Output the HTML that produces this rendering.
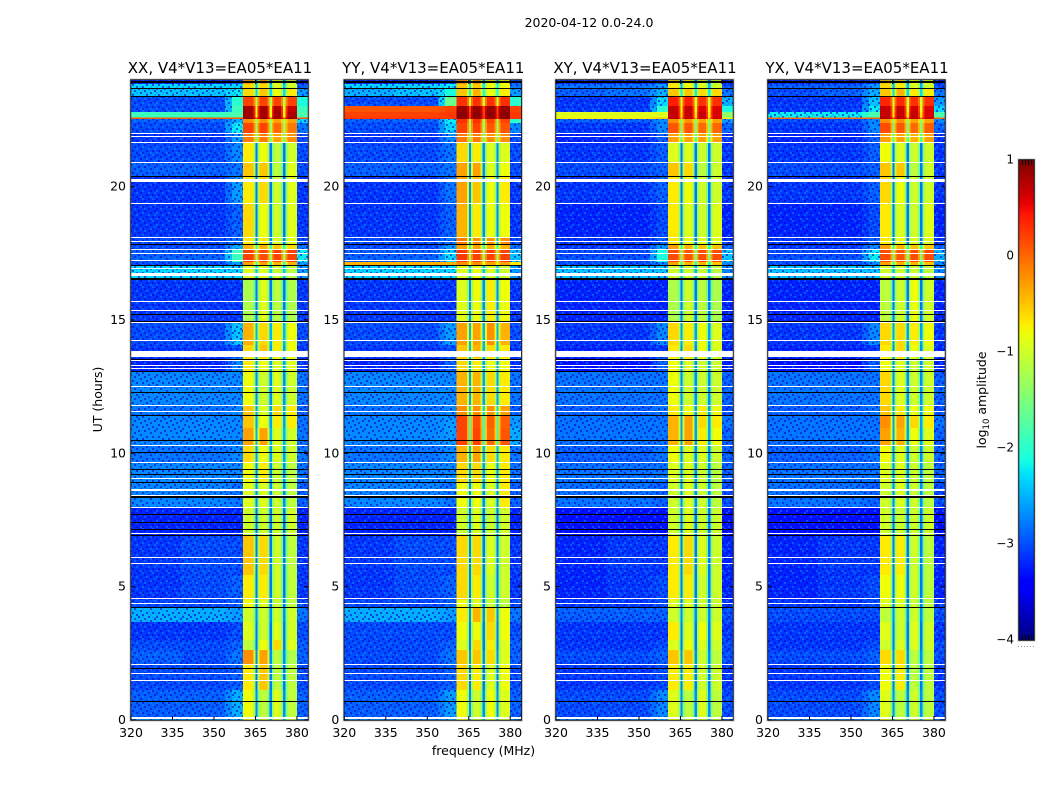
<!DOCTYPE html>
<html>
<head>
<meta charset="utf-8">
<title>2020-04-12 0.0-24.0</title>
<style>
html,body{margin:0;padding:0;background:#fff;width:1050px;height:800px;overflow:hidden}
svg{display:block}
text{font-family:"DejaVu Sans","Liberation Sans",sans-serif;fill:#000}
</style>
</head>
<body>
<svg id="fig" xmlns="http://www.w3.org/2000/svg" width="1050" height="800" viewBox="0 0 1050 800">
<defs>
<pattern id="speckle" width="26" height="22" patternUnits="userSpaceOnUse">
<path fill="#0000d8" fill-opacity="0.6" d="M0 0h2v2h-2z M8 0h2v2h-2z M18 0h2v2h-2z M4 2h2v2h-2z M14 2h2v2h-2z M24 2h2v2h-2z M10 4h2v2h-2z M20 4h2v2h-2z M2 6h2v2h-2z M16 6h2v2h-2z M6 8h2v2h-2z M12 8h2v2h-2z M22 8h2v2h-2z M0 10h2v2h-2z M18 10h2v2h-2z M8 12h2v2h-2z M14 12h2v2h-2z M24 12h2v2h-2z M4 14h2v2h-2z M20 14h2v2h-2z M10 16h2v2h-2z M2 18h2v2h-2z M16 18h2v2h-2z M22 18h2v2h-2z M6 20h2v2h-2z M12 20h2v2h-2z"/>
<path fill="#0a90ff" fill-opacity="0.5" d="M12 0h2v2h-2z M22 0h2v2h-2z M0 4h2v2h-2z M6 4h2v2h-2z M16 4h2v2h-2z M10 8h2v2h-2z M20 8h2v2h-2z M4 10h2v2h-2z M14 10h2v2h-2z M24 6h2v2h-2z M0 14h2v2h-2z M12 14h2v2h-2z M24 16h2v2h-2z M6 16h2v2h-2z M18 16h2v2h-2z M10 20h2v2h-2z M20 20h2v2h-2z M0 20h2v2h-2z"/>
</pattern>
</defs>
<text x="589" y="27" text-anchor="middle" font-size="12.5">2020-04-12 0.0-24.0</text>
<text x="483.5" y="755" text-anchor="middle" font-size="12.5">frequency (MHz)</text>
<text transform="translate(102,399.5) rotate(-90)" text-anchor="middle" font-size="12.5">UT (hours)</text>
<text transform="translate(986,400) rotate(-90)" text-anchor="middle" font-size="12.5">log<tspan font-size="8.5" dy="3">10</tspan><tspan dy="-3"> amplitude</tspan></text>
<g id="panels"></g>
<g id="colorbar"></g>
</svg>
<script>
// Time band edges (hours, top to bottom)
const bandHours = [24,23.85,23.7,23.36,23.02,22.8,22.6,22.53,22.38,22,21.67,20.92,20.36,19.38,18.07,17.81,17.62,17.17,17.02,16.54,14.96,14.06,13.57,13.05,11.81,11.44,10.95,10.31,9.67,8.92,7.99,6.9,5.44,4.5,4.24,3.67,3,2.62,2.1,1.12,0.07,0];
// Frequency column edges (MHz)
const freqEdges = [320,338,354,356.5,360.5,364.3,365,365.8,366.5,369.3,370,370.9,371.6,374.3,375,375.8,376.5,380,384];
// row = [low, mid, ramp, band1, band2, band3, band4, gap, high]
// Each column reads one slot, or a weighted blend [slotA, slotB, weightA] at a transition.
const columnSlots = [0,1,[1,2,.5],2,3,[3,7,.72],7,[4,7,.72],4,[4,7,.72],7,[5,7,.72],5,[5,7,.72],7,[6,7,.72],6,8];

const xxValues = [
[-3.2,-3.2,-3,-.3,-.3,-.8,-1,-2.8,-3.2],
[-2.3,-2.3,-2.3,-.6,-.6,-.9,-1,-2.4,-2.9],
[-2.4,-2.4,-2.2,-.6,-.5,-.8,-.7,-2.3,-2.6],
[-3,-3,-2,.2,.2,.2,.2,-1.2,-2.1],
[-3,-3,-1.9,.85,.85,.8,.7,-.9,-1.9],
[-1.9,-1.9,-1.8,.85,.85,.85,.8,-.8,-1.8],
[.1,.1,.1,.9,.9,.9,.9,.1,.1],
[-2.9,-2.9,-2.5,-.2,-.2,-.3,-.3,-1.3,-2.3],
[-3,-3,-2.2,.2,.2,0,-.1,-1.3,-2.8],
[-3.1,-3.1,-2.6,-.1,-.1,-.3,-.2,-1.5,-3],
[-3,-3,-2.7,-.7,-.8,-1.1,-1,-2.8,-3],
[-2.9,-2.9,-2.8,-.5,-.5,-1.1,-.9,-2.8,-3],
[-3.1,-3.1,-2.6,-.7,-.6,-1,-.9,-2.8,-3.1],
[-3.1,-3.1,-2.9,-.6,-.8,-1,-.9,-2.8,-3.1],
[-3,-3,-2.8,-.7,-.7,-.9,-.9,-2.7,-3],
[-3,-3,-2.5,-.4,-.4,-.5,-.6,-2,-2.8],
[-2.9,-2.9,-1.9,.2,.15,.2,.2,-1.3,-2.2],
[-3,-3,-2.6,-.3,-.3,-.4,-.4,-2,-2.6],
[-2.3,-2.3,-2.3,-.9,-.9,-1,-1.1,-2.4,-2.6],
[-3.1,-3.1,-3.1,-1.2,-.9,-1.1,-1.2,-2.8,-3.1],
[-3,-3,-2.4,-.4,-.6,-.7,-.8,-2.5,-3],
[-3.1,-3.1,-3,-.6,-.5,-.7,-.8,-2.6,-3.1],
[-3.2,-3.2,-2.7,-.7,-.8,-.9,-.9,-2.6,-3.1],
[-2.7,-2.7,-2.7,-.8,-1,-.9,-1,-2.7,-2.8],
[-2.8,-2.8,-2.7,-.5,-.9,-.6,-.7,-2.6,-2.9],
[-2.7,-2.7,-2.7,-.5,-.8,-.7,-.7,-2.6,-2.8],
[-2.7,-2.7,-2.7,-.3,-.3,-.9,-1,-2.5,-2.8],
[-2.8,-2.8,-2.7,-.6,-.8,-.9,-1,-2.6,-2.8],
[-2.7,-2.7,-2.7,-.8,-.7,-1,-1.1,-2.7,-2.8],
[-2.7,-2.7,-2.8,-.9,-.9,-1,-1.1,-2.7,-2.9],
[-3.2,-3.2,-3.2,-1,-1,-1,-1,-2.8,-3.2],
[-3.1,-3,-3,-.5,-.6,-1,-1.1,-2.8,-3.1],
[-3.1,-3,-2.9,-.7,-.7,-1,-1.1,-2.8,-3.1],
[-3,-3,-2.9,-.8,-.9,-1,-1.1,-2.8,-3],
[-2.5,-2.5,-2.6,-1,-1,-1,-1,-2.7,-2.8],
[-3.1,-3.1,-3,-.9,-1,-.9,-1,-2.8,-3],
[-3,-3,-2.9,-1.1,-.8,-.6,-.9,-2.8,-2.9],
[-2.9,-3,-2.8,-.2,-.3,-1.1,-1.2,-2.7,-2.9],
[-3,-3,-2.9,-.7,-.5,-1.1,-1.1,-2.8,-3],
[-2.9,-2.9,-2.5,-.8,-1.1,-.9,-1.1,-2.7,-2.9],
[-2.6,-2.6,-2.4,-.8,-1,-.9,-1,-2.5,-2.7]
];
const yyValues = [
[-3.2,-3.2,-3,-.2,-.2,-.7,-.8,-2.7,-3],
[-2.3,-2.3,-2.2,-.5,-.5,-.8,-.8,-2.2,-2.8],
[-2.5,-2.4,-2.1,-.5,-.4,-.8,-.7,-2.1,-2.6],
[-3,-3,-1.6,.3,.3,.3,.3,-1,-2],
[.1,.1,.2,.9,.9,.9,.9,.2,.2],
[.2,.2,.25,.95,.95,.95,.95,.25,.25],
[.3,.3,.3,.9,.9,.9,.9,.3,.3],
[-2.9,-2.9,-2.2,.3,.3,.2,.2,-1.2,-2],
[-3,-3,-2.3,.2,.2,.1,.1,-1.3,-2.7],
[-3.1,-3.1,-2.7,-.1,-.1,-.2,-.2,-1.5,-3],
[-3,-3,-2.8,-.6,-.7,-.9,-.9,-2.7,-3],
[-2.9,-2.9,-2.8,-.3,-.3,-.9,-.8,-2.7,-3],
[-3.1,-3.1,-2.8,-.3,-.5,-.8,-.7,-2.7,-3.1],
[-3.1,-3.1,-2.9,-.4,-.7,-.8,-.8,-2.7,-3.1],
[-3,-3,-2.8,-.1,-.2,-.2,-.2,-2.5,-3],
[-3,-3,-2.6,-.3,-.3,-.4,-.4,-2,-2.8],
[-2.9,-2.9,-2.3,.25,.2,.2,.2,-1.3,-2.4],
[-.4,-.4,-.4,-.2,-.2,-.3,-.3,-.8,-.7],
[-2.3,-2.3,-2.3,-.9,-.8,-.9,-1,-2.4,-2.6],
[-3.1,-3.1,-3.1,-.9,-.8,-.7,-.8,-2.7,-3.1],
[-3,-3,-2.6,-.3,-.3,-.2,-.4,-2.5,-3],
[-3.1,-3.1,-3,-.5,-.4,-.6,-.7,-2.5,-3.1],
[-3.2,-3.2,-2.9,-.6,-.7,-.8,-.8,-2.6,-3.1],
[-2.7,-2.7,-2.7,-.4,-.4,-.6,-.7,-2.6,-2.8],
[-2.8,-2.8,-2.7,-.2,-.2,-.2,-.3,-2.3,-2.9],
[-2.7,-2.7,-2.6,.2,.15,.05,.05,-1.9,-2.6],
[-2.7,-2.7,-2.6,.2,.2,0,.1,-1.9,-2.5],
[-2.8,-2.8,-2.7,-.4,-.3,-.6,-.7,-2.5,-2.8],
[-2.7,-2.7,-2.7,-.6,-.6,-.8,-.7,-2.6,-2.8],
[-2.7,-2.7,-2.8,-.8,-.8,-.9,-.7,-2.7,-2.9],
[-3.2,-3.2,-3.2,-1,-.9,-1,-1,-2.8,-3.2],
[-3.1,-3,-3,-.6,-.6,-.9,-1,-2.8,-3.1],
[-3.1,-3,-2.9,-.6,-.7,-1,-1,-2.8,-3.1],
[-3,-3,-2.9,-.8,-.9,-1,-1.1,-2.8,-3],
[-2.5,-2.5,-2.6,-.7,-.4,-.5,-.8,-2.7,-2.8],
[-3,-3,-3,-.8,-.8,-.6,-.8,-2.8,-3],
[-3,-3,-2.9,-.9,-.6,-.7,-.9,-2.8,-2.9],
[-3,-3,-2.8,-.5,-.5,-.6,-.9,-2.7,-2.9],
[-3,-3,-2.9,-.6,-.7,-.9,-.8,-2.8,-3],
[-2.9,-2.9,-2.6,-.8,-1,-.8,-.9,-2.7,-2.9],
[-2.7,-2.7,-2.5,-.8,-1,-.9,-1,-2.5,-2.7]
];
const xyValues = [
[-3.2,-3.2,-3.1,-.6,-.7,-.9,-1,-2.8,-3.2],
[-2.8,-2.8,-2.6,-.7,-.8,-.9,-1,-2.5,-3],
[-2.9,-2.8,-2.5,-.5,-.5,-.6,-.6,-2.2,-2.8],
[-3.1,-3.1,-2.3,.4,.4,.3,.3,-1,-2.5],
[-3.1,-3.1,-2,.7,.7,.6,.6,-.8,-2.1],
[-.9,-.9,-.9,.7,.7,.7,.6,-.7,-1.4],
[-.7,-.7,-.5,.8,.8,.7,.7,-.4,-.7],
[-2.9,-2.9,-2.7,-.2,-.2,-.3,-.3,-1.5,-2.6],
[-3.1,-3.1,-2.7,.1,.1,0,0,-1.5,-2.9],
[-3.2,-3.2,-2.9,-.3,-.3,-.3,-.3,-1.8,-3.1],
[-3.1,-3.1,-2.9,-.9,-.9,-1,-1,-2.8,-3.1],
[-3,-3,-2.9,-.5,-.6,-1.1,-1,-2.8,-3.1],
[-3.1,-3.1,-2.9,-.7,-.8,-1,-1,-2.8,-3.1],
[-3.2,-3.2,-3,-.7,-.9,-1,-.9,-2.8,-3.2],
[-3.1,-3.1,-2.9,-.7,-.8,-.9,-.9,-2.8,-3.1],
[-3.1,-3.1,-2.6,-.3,-.4,-.5,-.5,-2.1,-2.9],
[-3,-3,-2.1,.15,.1,.15,.15,-1.5,-2.4],
[-3,-3,-2.7,-.3,-.4,-.4,-.5,-2.1,-2.7],
[-2.4,-2.4,-2.4,-1,-1,-1,-1.1,-2.5,-2.7],
[-3.2,-3.2,-3.2,-1.2,-1,-1.1,-1.2,-2.8,-3.2],
[-3.1,-3.1,-2.7,-.6,-.7,-.8,-.9,-2.6,-3.1],
[-3.2,-3.2,-3.1,-.7,-.6,-.8,-.9,-2.7,-3.2],
[-3.3,-3.3,-2.9,-.8,-.9,-1,-1,-2.7,-3.2],
[-2.8,-2.8,-2.8,-.8,-1,-1,-1,-2.7,-2.9],
[-2.9,-2.9,-2.8,-.7,-.8,-.7,-.8,-2.6,-3],
[-2.8,-2.8,-2.8,-.4,-.3,-.6,-.7,-2.6,-2.8],
[-2.8,-2.8,-2.8,-.4,-.3,-.7,-.8,-2.6,-2.9],
[-2.9,-2.9,-2.8,-.8,-.9,-.9,-1,-2.7,-2.9],
[-2.8,-2.8,-2.8,-.9,-.9,-1,-1.1,-2.7,-2.9],
[-2.8,-2.8,-2.9,-1,-.9,-1,-1.1,-2.7,-3],
[-3.3,-3.3,-3.3,-1,-.9,-1,-1,-2.8,-3.3],
[-3.2,-3.1,-3.1,-.7,-.6,-.9,-1,-2.8,-3.2],
[-3.2,-3.1,-3,-.7,-.7,-1,-1,-2.8,-3.2],
[-3.1,-3.1,-3,-.9,-.9,-1,-1,-2.8,-3.1],
[-2.9,-2.9,-2.9,-1,-1,-1,-1,-2.7,-3],
[-3.1,-3.1,-3.1,-.7,-.9,-.8,-.9,-2.8,-3.1],
[-3.1,-3.1,-3,-.9,-.8,-.9,-1,-2.8,-3],
[-3,-3,-2.9,-.5,-.5,-1,-1.1,-2.7,-3],
[-3.1,-3.1,-3,-.7,-.7,-1,-1,-2.8,-3.1],
[-3,-3,-2.7,-.9,-1.1,-.9,-1.1,-2.7,-3],
[-2.7,-2.7,-2.5,-.8,-1,-.9,-1,-2.5,-2.8]
];
const yxValues = [
[-3.2,-3.2,-3.1,-.5,-.6,-.8,-.9,-2.8,-3.2],
[-2.9,-2.9,-2.6,-.6,-.7,-.9,-1,-2.5,-3],
[-3,-2.9,-2.5,-.5,-.4,-.7,-.7,-2.3,-2.8],
[-3.1,-3.1,-2.4,.35,.35,.3,.3,-1,-2.6],
[-3.1,-3.1,-2.2,.7,.7,.65,.6,-.9,-2.3],
[-2.2,-2.2,-1.8,.7,.7,.7,.6,-.7,-1.8],
[0,0,.05,.8,.8,.8,.7,0,0],
[-3,-3,-2.7,-.2,-.2,-.3,-.3,-1.4,-2.7],
[-3.1,-3.1,-2.7,.15,.1,0,.05,-1.5,-2.9],
[-3.2,-3.2,-2.9,-.3,-.3,-.4,-.3,-1.8,-3.1],
[-3.1,-3.1,-2.9,-.8,-.9,-1,-1,-2.8,-3.1],
[-3,-3,-2.9,-.5,-.5,-1.1,-1,-2.8,-3.1],
[-3.1,-3.1,-2.9,-.6,-.8,-1,-1,-2.8,-3.1],
[-3.2,-3.2,-3,-.7,-.9,-1,-.9,-2.8,-3.2],
[-3.1,-3.1,-2.9,-.7,-.8,-.9,-.9,-2.8,-3.1],
[-3.1,-3.1,-2.7,-.3,-.4,-.5,-.5,-2.1,-2.9],
[-3,-3,-2.2,.15,.1,.15,.15,-1.5,-2.5],
[-3,-3,-2.7,-.3,-.4,-.4,-.5,-2.1,-2.7],
[-2.4,-2.4,-2.4,-1,-1,-1,-1.1,-2.5,-2.7],
[-3.2,-3.2,-3.2,-1.1,-1,-.8,-1,-2.8,-3.2],
[-3.1,-3.1,-2.7,-.6,-.6,-.7,-.8,-2.6,-3.1],
[-3.2,-3.2,-3.1,-.7,-.6,-.8,-.9,-2.7,-3.2],
[-3.3,-3.3,-2.9,-.8,-.9,-1,-1,-2.7,-3.2],
[-2.8,-2.8,-2.8,-.6,-.9,-1,-1,-2.7,-2.9],
[-2.9,-2.9,-2.8,-.5,-.7,-.8,-.8,-2.6,-3],
[-2.8,-2.8,-2.8,-.2,-.3,-.6,-.7,-2.6,-2.8],
[-2.8,-2.8,-2.8,-.3,-.4,-.8,-.9,-2.6,-2.9],
[-2.9,-2.9,-2.8,-.8,-.9,-1,-1,-2.7,-2.9],
[-2.8,-2.8,-2.8,-.9,-.9,-1,-1.1,-2.7,-2.9],
[-2.8,-2.8,-2.9,-1,-.9,-1,-1.1,-2.7,-3],
[-3.3,-3.3,-3.3,-1,-1,-1,-1,-2.8,-3.3],
[-3.2,-3.1,-3.1,-.7,-.7,-1,-1.1,-2.8,-3.2],
[-3.2,-3.1,-3,-.8,-.8,-1,-1.1,-2.8,-3.2],
[-3.1,-3.1,-3,-.9,-.9,-1,-1.1,-2.8,-3.1],
[-3,-3,-3,-1.1,-1,-1,-1.1,-2.7,-3],
[-3.1,-3.1,-3.1,-.9,-1,-.9,-1,-2.8,-3.1],
[-3.1,-3.1,-3,-1,-.9,-.9,-1,-2.8,-3],
[-3,-3,-2.9,-.6,-.6,-1.1,-1.1,-2.7,-3],
[-3.1,-3.1,-3,-.8,-.7,-1.1,-1.1,-2.8,-3.1],
[-3,-3,-2.7,-.9,-1.1,-1,-1.1,-2.7,-3],
[-2.7,-2.7,-2.5,-.8,-1,-.9,-1,-2.5,-2.8]
];
// Flagged integrations: [hour, span in hours]
const whiteFlags = [[21.98,.05],[21.86,.05],[21.66,.05],[20.91,.05],[20.22,.11],[19.37,.05],[18.08,.05],[17.95,.05],[17.62,.05],[17.47,.05],[17.22,.05],[16.91,.05],[16.69,.11],[15.7,.05],[15.36,.05],[14.89,.05],[14.22,.05],[13.72,.23],[13.47,.05],[13.28,.05],[13.19,.05],[12.51,.05],[11.8,.05],[11.57,.05],[10.3,.05],[9.66,.05],[9.06,.05],[8.62,.09],[8.43,.05],[7.98,.05],[7,.05],[6.09,.05],[5.88,.05],[4.56,.05],[4.38,.05],[2.09,.05],[1.75,.05],[1.49,.05],[.09,.08]];
const blackFlags = [[23.92,.08],[23.69,.05],[23.37,.05],[20.36,.05],[17.81,.05],[17.03,.05],[16.52,.09],[15.2,.05],[14.93,.05],[13.52,.05],[13.06,.05],[12.29,.05],[11.42,.05],[10.49,.05],[10.02,.05],[9.39,.05],[9.21,.05],[8.91,.05],[8.34,.09],[7.69,.05],[7.41,.05],[7.14,.05],[6.9,.05],[4.23,.05],[1.94,.05],[.7,.05]];
// Axis ticks
const freqTicks = [320,335,350,365,380];
const hourTicks = [0,5,10,15,20];
const colorTicks = [1,0,-1,-2,-3,-4];
// Panel titles
const panelTitles = ["XX, V4*V13=EA05*EA11","YY, V4*V13=EA05*EA11","XY, V4*V13=EA05*EA11","YX, V4*V13=EA05*EA11"];
const panelKeys = ["xx","yy","xy","yx"];
const panelSeries = [xxValues,yyValues,xyValues,yxValues];
const panelLefts = [131,344.3,556,768];

const NS = "http://www.w3.org/2000/svg";
const FRAME_W = 177, TOP = 80, BOTTOM = 720;
const V_MIN = -4, V_MAX = 1;
const yScale = h => BOTTOM - (h / 24) * (BOTTOM - TOP);
const xScale = (left, f) => left + ((f - 320) / 64) * FRAME_W;

function lerp(stops, t) {
  for (let i = 1; i < stops.length; i++) {
    if (t <= stops[i][0]) {
      const a = stops[i - 1], b = stops[i];
      return a[1] + (b[1] - a[1]) * (t - a[0]) / (b[0] - a[0]);
    }
  }
  return stops[stops.length - 1][1];
}
const jetR = [[0,0],[.35,0],[.66,1],[.89,1],[1,.5]];
const jetG = [[0,0],[.125,0],[.375,1],[.64,1],[.91,0],[1,0]];
const jetB = [[0,.5],[.11,1],[.34,1],[.65,0],[1,0]];
function jet(v) {
  const t = Math.min(1, Math.max(0, (v - V_MIN) / (V_MAX - V_MIN)));
  const c = s => Math.round(255 * lerp(s, t));
  return "rgb(" + c(jetR) + "," + c(jetG) + "," + c(jetB) + ")";
}
function mk(tag, attrs, parent) {
  const el = document.createElementNS(NS, tag);
  for (const k in attrs) el.setAttribute(k, attrs[k]);
  parent.appendChild(el);
  return el;
}
function cellValue(row, slot) {
  if (Array.isArray(slot)) return row[slot[0]] * slot[2] + row[slot[1]] * (1 - slot[2]);
  return row[slot];
}

const panelsRoot = document.getElementById("panels");
panelSeries.forEach((rows, p) => {
  const left = panelLefts[p], key = panelKeys[p];
  const g = mk("g", {}, panelsRoot);
  
  

  // heatmap cells, with a channel speckle on quiet off-band cells
  const cells = mk("g", {"shape-rendering":"crispEdges"}, g);
  
  
  rows.forEach((row, r) => {
    columnSlots.forEach((slot, c) => {
      const x0 = xScale(left, freqEdges[c]), x1 = xScale(left, freqEdges[c + 1]);
      const y0 = yScale(bandHours[r]), y1 = yScale(bandHours[r + 1]);
      const v = cellValue(row, slot);
      const cell = mk("rect", {x:x0, y:y0, width:x1 - x0, height:y1 - y0, fill:jet(v)}, cells);
      
      
      if (v <= -2.2 && (freqEdges[c + 1] <= 360.5 || freqEdges[c] >= 380)) {
        const tex = mk("rect", {x:x0, y:y0, width:x1 - x0, height:y1 - y0, fill:"url(#speckle)"}, cells);
        
        
      }
    });
  });

  // flagged rows
  const flags = mk("g", {"shape-rendering":"crispEdges"}, g);
  
  
  const flagBox = f => {
    const y0 = yScale(f[0] + f[1] / 2);
    const h = yScale(f[0] - f[1] / 2) - y0;
    return {y:Math.round(y0), height:Math.max(1, Math.round(h))};
  };
  whiteFlags.forEach(f => {
    const b = flagBox(f);
    const el = mk("rect", {x:left, y:b.y, width:FRAME_W, height:b.height, fill:"#fff"}, flags);
    
    
  });
  blackFlags.forEach(f => {
    const b = flagBox(f);
    const el = mk("rect", {x:left, y:b.y, width:FRAME_W, height:b.height, fill:"#000"}, flags);
    
    
  });

  // frame
  const halo = mk("rect", {x:left - 1, y:TOP - 1, width:FRAME_W + 2, height:BOTTOM - TOP + 2, fill:"none", stroke:"#c4c4c4", "stroke-width":1}, g);
  
  
  const frame = mk("rect", {x:left - .25, y:TOP - .25, width:FRAME_W + .5, height:BOTTOM - TOP + .5, fill:"none", stroke:"#222", "stroke-width":1}, g);
  
  

  // x ticks
  freqTicks.forEach(f => {
    const x = xScale(left, f);
    const t1 = mk("line", {x1:x, x2:x, y1:BOTTOM, y2:BOTTOM - 4, stroke:"#000"}, g);
    
    
    const t2 = mk("line", {x1:x, x2:x, y1:TOP, y2:TOP + 4, stroke:"#000"}, g);
    
    
    const lab = mk("text", {x:x, y:737, "text-anchor":"middle", "font-size":12.5}, g);
    lab.textContent = f;
    
    
  });
  // y ticks
  hourTicks.forEach(h => {
    const y = yScale(h);
    const t1 = mk("line", {x1:left, x2:left + 4, y1:y, y2:y, stroke:"#000"}, g);
    
    
    const t2 = mk("line", {x1:left + FRAME_W, x2:left + FRAME_W - 4, y1:y, y2:y, stroke:"#000"}, g);
    
    
    const lab = mk("text", {x:left - 5, y:y + 4, "text-anchor":"end", "font-size":12.5}, g);
    lab.textContent = h;
    
    
  });
  // title
  const title = mk("text", {x:left + FRAME_W / 2 + .5, y:73, "text-anchor":"middle", "font-size":15}, g);
  title.textContent = panelTitles[p];
  
  
});

// Colorbar
const cb = document.getElementById("colorbar");
const CB_L = 1019, CB_R = 1034, CB_T = 160, CB_B = 640;
const cbY = v => CB_B - ((v - V_MIN) / (V_MAX - V_MIN)) * (CB_B - CB_T);
const cbStrip = mk("g", {"shape-rendering":"crispEdges"}, cb);


for (let i = 0; i < 240; i++) {
  const v0 = V_MIN + (V_MAX - V_MIN) * i / 240, v1 = V_MIN + (V_MAX - V_MIN) * (i + 1) / 240;
  const s = mk("rect", {x:CB_L, y:cbY(v1), width:CB_R - CB_L, height:cbY(v0) - cbY(v1) + .5, fill:jet((v0 + v1) / 2)}, cbStrip);
  
  
}
const cbHalo = mk("rect", {x:CB_L - 1, y:CB_T - 1, width:CB_R - CB_L + 2, height:CB_B - CB_T + 2, fill:"none", stroke:"#c4c4c4"}, cb);


const cbFrame = mk("rect", {x:CB_L - .25, y:CB_T - .25, width:CB_R - CB_L + .5, height:CB_B - CB_T + .5, fill:"none", stroke:"#111"}, cb);


colorTicks.forEach(v => {
  const lab = mk("text", {x:CB_L - 5, y:cbY(v) + 3.5, "text-anchor":"end", "font-size":12}, cb);
  lab.textContent = String(v).replace("-", "\u2212");
  
  
});
[1022,1025,1028,1031].forEach(x => {
  const a = mk("line", {x1:x + .5, x2:x + .5, y1:CB_T, y2:CB_T + 5, stroke:"#000"}, cb);
  
  
  const b = mk("line", {x1:x + .5, x2:x + .5, y1:CB_B, y2:CB_B - 5, stroke:"#000"}, cb);
  
  
});
[1018,1021,1024,1027,1030,1033].forEach(x => {
  const d = mk("rect", {x:x, y:646, width:1, height:1, fill:"#999"}, cb);
  
  
});
</script>
</body>
</html>
